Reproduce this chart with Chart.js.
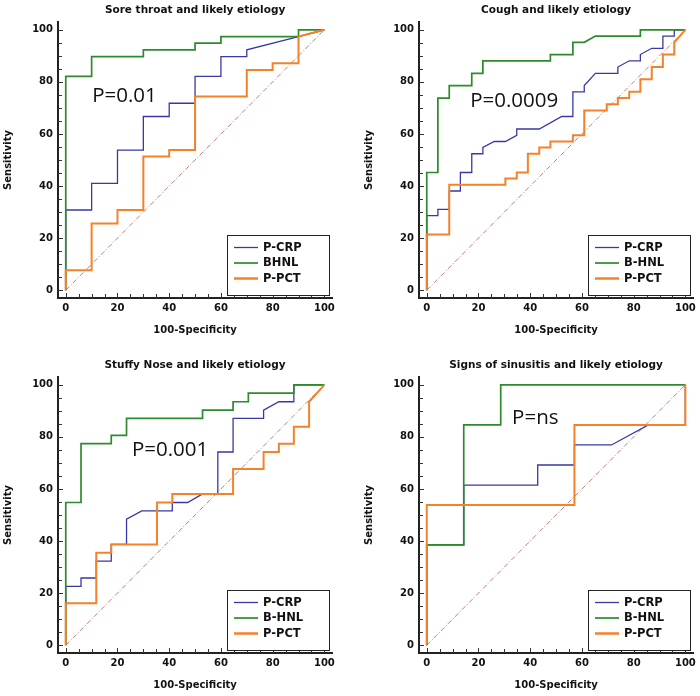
<!DOCTYPE html>
<html>
<head>
<meta charset="utf-8">
<script src="https://cdn.jsdelivr.net/npm/chart.js@4.4.1/dist/chart.umd.min.js"></script>
<style>
  html, body { margin: 0; padding: 0; background: #fff; overflow: hidden; }
  canvas { position: absolute; }
</style>
</head>
<body>
<canvas id="c1" width="339" height="340" style="left:0;top:0"></canvas>
<canvas id="c2" width="339" height="340" style="left:361px;top:0"></canvas>
<canvas id="c3" width="339" height="340" style="left:0;top:355px"></canvas>
<canvas id="c4" width="339" height="340" style="left:361px;top:355px"></canvas>
<script>
// ROC curves, values (100-Specificity, Sensitivity)
const refX = [0, 100];
const refY = [0, 100];

// Sore throat
const soreCrpX = [0,0,10,10,20,20,30,30,40,40,50,50,60,60,70,70,90,100];
const soreCrpY = [0,30.8,30.8,41,41,53.8,53.8,66.7,66.7,71.8,71.8,82.1,82.1,89.7,89.7,92.3,97.4,100];
const soreHnlX = [0,0,10,10,30,30,50,50,60,60,90,90,100];
const soreHnlY = [0,82.1,82.1,89.7,89.7,92.3,92.3,94.9,94.9,97.4,97.4,100,100];
const sorePctX = [0,0,10,10,20,20,30,30,40,40,50,50,70,70,80,80,90,90,100];
const sorePctY = [0,7.7,7.7,25.6,25.6,30.8,30.8,51.3,51.3,53.8,53.8,74.4,74.4,84.6,84.6,87.2,87.2,97.4,100];

// Cough
const coughCrpX = [0,0,4.3,4.3,8.7,8.7,13,13,17.4,17.4,21.7,21.7,26.1,30.4,34.8,34.8,43.5,52.2,56.5,56.5,60.9,60.9,65.2,73.9,73.9,78.3,82.6,82.6,87,91.3,91.3,95.7,95.7,100];
const coughCrpY = [0,28.6,28.6,31,31,38.1,38.1,45.2,45.2,52.4,52.4,54.8,57.1,57.1,59.5,61.9,61.9,66.7,66.7,76.2,76.2,78.6,83.3,83.3,85.7,88.1,88.1,90.5,92.9,92.9,97.6,97.6,100,100];
const coughHnlX = [0,0,4.3,4.3,8.7,8.7,17.4,17.4,21.7,21.7,47.8,47.8,56.5,56.5,60.9,65.2,82.6,82.6,100];
const coughHnlY = [0,45.2,45.2,73.8,73.8,78.6,78.6,83.3,83.3,88.1,88.1,90.5,90.5,95.2,95.2,97.6,97.6,100,100];
const coughPctX = [0,0,8.7,8.7,30.4,30.4,34.8,34.8,39.1,39.1,43.5,43.5,47.8,47.8,56.5,56.5,60.9,60.9,69.6,69.6,73.9,73.9,78.3,78.3,82.6,82.6,87,87,91.3,91.3,95.7,95.7,100];
const coughPctY = [0,21.4,21.4,40.5,40.5,42.9,42.9,45.2,45.2,52.4,52.4,54.8,54.8,57.1,57.1,59.5,59.5,69,69,71.4,71.4,73.8,73.8,76.2,76.2,81,81,85.7,85.7,90.5,90.5,95.2,100];

// Stuffy nose
const stuffyCrpX = [0,0,5.9,5.9,11.8,11.8,17.6,17.6,23.5,23.5,29.4,41.2,41.2,47.1,52.9,58.8,58.8,64.7,64.7,76.5,76.5,82.4,88.2,88.2,100];
const stuffyCrpY = [0,22.6,22.6,25.8,25.8,32.3,32.3,38.7,38.7,48.4,51.6,51.6,54.8,54.8,58.1,58.1,74.2,74.2,87.1,87.1,90.3,93.5,93.5,100,100];
const stuffyHnlX = [0,0,5.9,5.9,17.6,17.6,23.5,23.5,52.9,52.9,64.7,64.7,70.6,70.6,88.2,88.2,100];
const stuffyHnlY = [0,54.8,54.8,77.4,77.4,80.6,80.6,87.1,87.1,90.3,90.3,93.5,93.5,96.8,96.8,100,100];
const stuffyPctX = [0,0,11.8,11.8,17.6,17.6,35.3,35.3,41.2,41.2,64.7,64.7,76.5,76.5,82.4,82.4,88.2,88.2,94.1,94.1,100];
const stuffyPctY = [0,16.1,16.1,35.5,35.5,38.7,38.7,54.8,54.8,58.1,58.1,67.7,67.7,74.2,74.2,77.4,77.4,83.9,83.9,93.5,100];

// Signs of sinusitis
const sinusCrpX = [0,0,14.3,14.3,42.9,42.9,57.1,57.1,71.4,85.7,100,100];
const sinusCrpY = [0,38.5,38.5,61.5,61.5,69.2,69.2,76.9,76.9,84.6,84.6,100];
const sinusHnlX = [0,0,14.3,14.3,28.6,28.6,100];
const sinusHnlY = [0,38.5,38.5,84.6,84.6,100,100];
const sinusPctX = [0,0,57.1,57.1,100,100];
const sinusPctY = [0,53.8,53.8,84.6,84.6,100];

const crpColor = '#3838a6';
const hnlColor = '#2d8a2d';
const pctColor = '#f5812a';
const refColor = '#b98077';

Chart.defaults.font.family = '"DejaVu Sans", sans-serif';

function pts(xs, ys) {
  return xs.map((x, i) => ({ x: x, y: ys[i] }));
}

// small inward tick marks every 5 units
const tickMarks = {
  id: 'tickMarks',
  beforeDatasetsDraw(chart) {
    const { ctx, chartArea, scales } = chart;
    ctx.save();
    ctx.strokeStyle = '#333';
    ctx.lineWidth = 1;
    for (let v = 0; v <= 100; v += 5) {
      const len = v % 20 === 0 ? 5 : 4;
      const px = Math.round(scales.x.getPixelForValue(v)) + 0.5;
      ctx.beginPath();
      ctx.moveTo(px, chartArea.bottom);
      ctx.lineTo(px, chartArea.bottom - len);
      ctx.stroke();
      const py = Math.round(scales.y.getPixelForValue(v)) + 0.5;
      ctx.beginPath();
      ctx.moveTo(chartArea.left, py);
      ctx.lineTo(chartArea.left + len, py);
      ctx.stroke();
    }
    ctx.restore();
  }
};

// legend box in the lower right corner
const legendBox = {
  id: 'legendBox',
  afterDatasetsDraw(chart) {
    const { ctx, chartArea } = chart;
    const items = chart.data.datasets.filter(d => d.label);
    const w = 102, h = 60;
    const left = Math.round(chartArea.right - 3 - w);
    const top = Math.round(chartArea.bottom - 3 - h);
    ctx.save();
    ctx.fillStyle = '#fff';
    ctx.fillRect(left, top, w, h);
    ctx.strokeStyle = '#222';
    ctx.lineWidth = 1;
    ctx.strokeRect(left + 0.5, top + 0.5, w, h);
    ctx.font = 'bold 11.5px "DejaVu Sans"';
    ctx.textBaseline = 'middle';
    items.forEach((d, i) => {
      const y = top + 12.5 + i * 15.5;
      ctx.strokeStyle = d.borderColor;
      ctx.lineWidth = d.legendWidth;
      ctx.beginPath();
      ctx.moveTo(left + 7, y);
      ctx.lineTo(left + 31, y);
      ctx.stroke();
      ctx.fillStyle = '#111';
      ctx.fillText(d.label, left + 36, y + 0.5);
    });
    ctx.restore();
  }
};

// P value note written inside the plot
const pNote = {
  id: 'pNote',
  afterDatasetsDraw(chart, args, opts) {
    const { ctx, scales } = chart;
    ctx.save();
    ctx.font = '20.5px "Open Sans"';
    ctx.fillStyle = '#111';
    ctx.textBaseline = 'alphabetic';
    ctx.fillText(opts.text, scales.x.getPixelForValue(opts.x), scales.y.getPixelForValue(opts.y));
    ctx.restore();
  }
};

function drawPanel(id, title, hnlLabel, crp, hnl, pct, note) {
  const tickFont = { family: '"DejaVu Sans"', weight: 'bold', size: 10 };
  const config = {
    type: 'scatter',
    data: {
      datasets: [
        { label: 'P-CRP', data: pts(crp[0], crp[1]), borderColor: crpColor, borderWidth: 1.3, legendWidth: 1.3, order: 2 },
        { label: hnlLabel, data: pts(hnl[0], hnl[1]), borderColor: hnlColor, borderWidth: 1.7, legendWidth: 1.7, order: 1 },
        { label: 'P-PCT', data: pts(pct[0], pct[1]), borderColor: pctColor, borderWidth: 2, legendWidth: 2.5, order: 0 },
        { label: '', data: pts(refX, refY), borderColor: refColor, borderWidth: 1, borderDash: [5, 2, 1, 2], order: 3 }
      ].map(d => Object.assign(d, { showLine: true, pointRadius: 0, fill: false, tension: 0 }))
    },
    options: {
      responsive: false,
      animation: false,
      layout: { autoPadding: false, padding: { left: 0, right: 4, top: 0, bottom: 0 } },
      plugins: {
        legend: { display: false },
        tooltip: { enabled: false },
        title: {
          display: true, text: title, fullSize: false, color: '#111',
          font: { family: '"DejaVu Sans"', weight: 'bold', size: 10.5 },
          padding: { top: 4, bottom: 5.4 }
        },
        pNote: note
      },
      scales: {
        x: {
          type: 'linear', min: -3, max: 103,
          grid: { display: false, drawTicks: false },
          border: { display: true, color: '#222', width: 2 },
          ticks: { stepSize: 20, includeBounds: false, color: '#111', padding: 4, font: tickFont },
          title: { display: true, text: '100-Specificity', color: '#111', font: tickFont, padding: { top: 0, bottom: 4 } },
          afterFit: s => { s.height = 42; }
        },
        y: {
          type: 'linear', min: -3, max: 103,
          grid: { display: false, drawTicks: false },
          border: { display: true, color: '#222', width: 2 },
          ticks: { stepSize: 20, includeBounds: false, color: '#111', padding: 5, font: tickFont },
          title: { display: true, text: 'Sensitivity', color: '#111', font: tickFont, padding: { top: 2, bottom: 0 } },
          afterFit: s => { s.width = 58; }
        }
      }
    },
    plugins: [tickMarks, legendBox, pNote]
  };
  return new Chart(document.getElementById(id), config);
}

drawPanel('c1', 'Sore throat and likely etiology', 'BHNL',
  [soreCrpX, soreCrpY], [soreHnlX, soreHnlY], [sorePctX, sorePctY],
  { text: 'P=0.01', x: 10.2, y: 72.1 });
drawPanel('c2', 'Cough and likely etiology', 'B-HNL',
  [coughCrpX, coughCrpY], [coughHnlX, coughHnlY], [coughPctX, coughPctY],
  { text: 'P=0.0009', x: 16.8, y: 70.5 });
drawPanel('c3', 'Stuffy Nose and likely etiology', 'B-HNL',
  [stuffyCrpX, stuffyCrpY], [stuffyHnlX, stuffyHnlY], [stuffyPctX, stuffyPctY],
  { text: 'P=0.001', x: 25.6, y: 72.5 });
drawPanel('c4', 'Signs of sinusitis and likely etiology', 'B-HNL',
  [sinusCrpX, sinusCrpY], [sinusHnlX, sinusHnlY], [sinusPctX, sinusPctY],
  { text: 'P=ns', x: 33, y: 85 });
</script>
</body>
</html>
